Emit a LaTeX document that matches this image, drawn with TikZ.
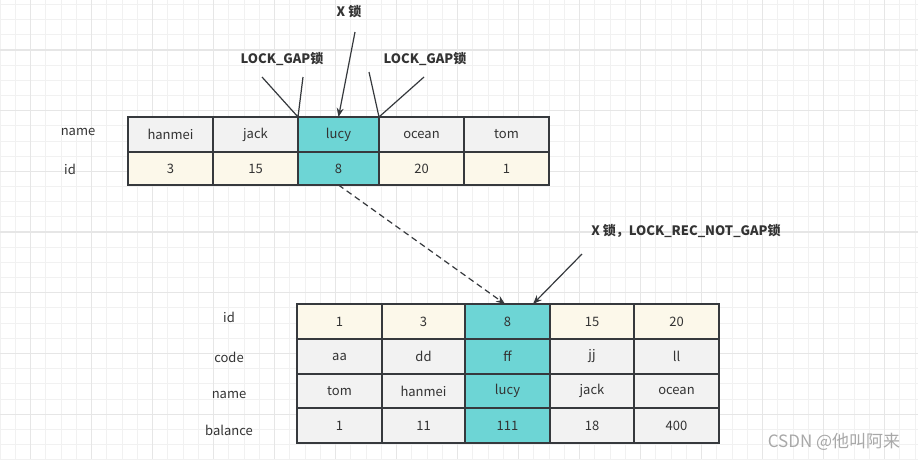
\documentclass[tikz,border=0pt]{standalone}
\usepackage{fontspec}
\setmainfont{Noto Sans CJK SC}
\usetikzlibrary{arrows.meta}
\definecolor{gridminor}{HTML}{F1F1F1}
\definecolor{gridmajor}{HTML}{E6E6E6}
\definecolor{cellgray}{HTML}{F2F2F2}
\definecolor{cellyellow}{HTML}{FCF8EA}
\definecolor{cellteal}{HTML}{6DD5D5}
\definecolor{edgecol}{HTML}{36393D}
\definecolor{txt}{HTML}{333333}
\definecolor{wm}{HTML}{A8A8A8}
\tikzset{
  cell/.style={draw=edgecol, line width=1.5pt, inner sep=0pt, outer sep=0pt, text=txt,
    font=\fontsize{13}{15}\selectfont, minimum width=85pt, minimum height=35pt},
  gcell/.style={cell, fill=cellgray},
  ycell/.style={cell, fill=cellyellow},
  tcell/.style={cell, fill=cellteal},
  rowlabel/.style={text=txt, font=\fontsize{13}{15}\selectfont, inner sep=0pt},
  toplabel/.style={text=txt, font=\bfseries\fontsize{13}{15}\selectfont, inner sep=0pt},
  callout/.style={draw=edgecol, line width=1.2pt},
  arr/.style={draw=edgecol, line width=1.2pt, -{Stealth[length=9pt,width=7pt]}},
}
\begin{document}
\begin{tikzpicture}[x=1pt,y=-1pt]
\useasboundingbox (0,0) rectangle (918,459);
\fill[white] (0,0) rectangle (918,459);
% grid
\foreach \k in {0,...,60} {
  \pgfmathsetmacro\xx{15.25*\k}
  \draw[gridminor, line width=1pt] (\xx,0) -- (\xx,459);
}
\foreach \k in {0,...,31} {
  \pgfmathsetmacro\yy{4.475+15.175*\k}
  \draw[gridminor, line width=1pt] (0,\yy) -- (918,\yy);
}
\foreach \k in {0,...,15} {
  \pgfmathsetmacro\xx{30.5+61*(\k-0)}
  \draw[gridmajor, line width=1.3pt] (\xx,0) -- (\xx,459);
}
\foreach \k in {0,...,7} {
  \pgfmathsetmacro\yy{50+60.7*(\k-0)}
  \draw[gridmajor, line width=1.3pt] (0,\yy) -- (918,\yy);
}

% top table
\node[gcell] (t11) at (170.5,134.5) {hanmei};
\node[gcell] (t12) at (255.5,134.5) {jack};
\node[tcell, minimum width=81pt] (t13) at (338.5,134.5) {lucy};
\node[gcell] (t14) at (421.5,134.5) {ocean};
\node[gcell] (t15) at (506.5,134.5) {tom};
\node[ycell, minimum height=33pt] (t21) at (170.5,168.5) {3};
\node[ycell, minimum height=33pt] (t22) at (255.5,168.5) {15};
\node[tcell, minimum width=81pt, minimum height=33pt] (t23) at (338.5,168.5) {8};
\node[ycell, minimum height=33pt] (t24) at (421.5,168.5) {20};
\node[ycell, minimum height=33pt] (t25) at (506.5,168.5) {1};
\node[rowlabel] (lname) at (78,132) {name};
\node[rowlabel] (lid) at (70,169) {id};

% bottom table
\node[ycell] (b11) at (339.5,321.5) {1};
\node[ycell, minimum width=83pt] (b12) at (423.5,321.5) {3};
\node[tcell] (b13) at (507.5,321.5) {8};
\node[ycell, minimum width=84pt] (b14) at (592,321.5) {15};
\node[ycell] (b15) at (676.5,321.5) {20};
\node[gcell] (b21) at (339.5,356.5) {aa};
\node[gcell, minimum width=83pt] (b22) at (423.5,356.5) {dd};
\node[tcell] (b23) at (507.5,356.5) {ff};
\node[gcell, minimum width=84pt] (b24) at (592,356.5) {jj};
\node[gcell] (b25) at (676.5,356.5) {ll};
\node[gcell, minimum height=34pt] (b31) at (339.5,391) {tom};
\node[gcell, minimum width=83pt, minimum height=34pt] (b32) at (423.5,391) {hanmei};
\node[tcell, minimum height=34pt] (b33) at (507.5,391) {lucy};
\node[gcell, minimum width=84pt, minimum height=34pt] (b34) at (592,391) {jack};
\node[gcell, minimum height=34pt] (b35) at (676.5,391) {ocean};
\node[gcell] (b41) at (339.5,425.5) {1};
\node[gcell, minimum width=83pt] (b42) at (423.5,425.5) {11};
\node[tcell] (b43) at (507.5,425.5) {111};
\node[gcell, minimum width=84pt] (b44) at (592,425.5) {18};
\node[gcell] (b45) at (676.5,425.5) {400};
\node[rowlabel] (bid) at (229,317) {id};
\node[rowlabel] (bcode) at (229,357) {code};
\node[rowlabel] (bname) at (229,395) {name};
\node[rowlabel] (bbal) at (229,430) {balance};

% annotations
\node[toplabel] (xlock) at (349,12) {X 锁};
\node[toplabel] (gapl) at (282,59) {LOCK\_GAP锁};
\node[toplabel] (gapr) at (425,59) {LOCK\_GAP锁};
\node[toplabel] (recl) at (686,231) {X 锁，LOCK\_REC\_NOT\_GAP锁};

\coordinate (xs) at (355,32);
\coordinate (gl1) at (262,77);
\coordinate (gl2) at (303,77);
\coordinate (gr1) at (369,72);
\coordinate (gr2) at (424,77);
\coordinate (rs) at (582,254);
\coordinate (btop1) at (505,304);
\coordinate (btop2) at (533,304);

\draw[arr] (xs) -- (t13.north);
\draw[callout] (gl1) -- (t12.north east) -- (gl2);
\draw[callout] (gr1) -- (t13.north east) -- (gr2);
\draw[arr, dashed, dash pattern=on 6pt off 4pt] (t23.south) -- (btop1);
\draw[arr] (rs) -- (btop2);

\node[text=wm, font=\fontsize{17}{19}\selectfont, inner sep=0pt] (wmk) at (834,442) {CSDN @他叫阿来};
\end{tikzpicture}
\end{document}
